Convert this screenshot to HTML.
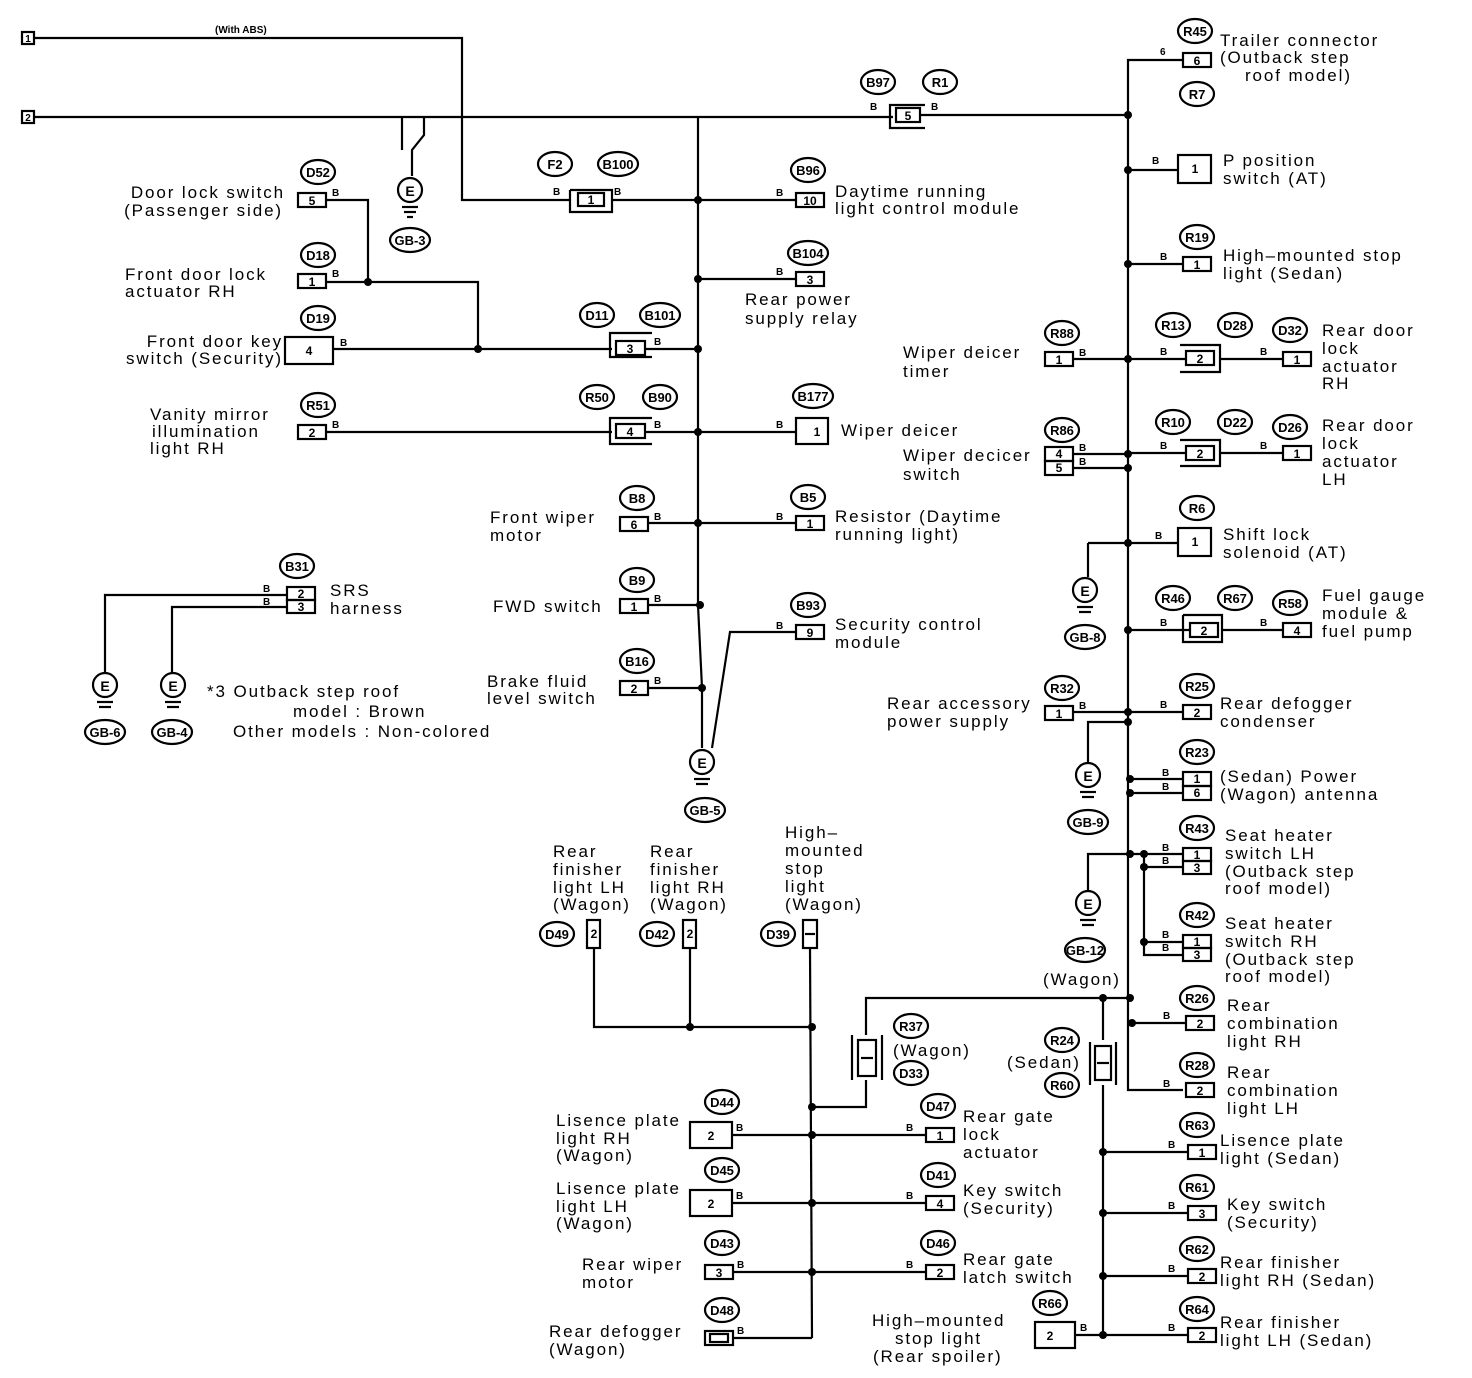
<!DOCTYPE html>
<html><head><meta charset="utf-8"><style>
body{margin:0;background:#fff}
svg{display:block}
text{font-family:"Liberation Sans",sans-serif;fill:#000}
.t{font-size:17px;letter-spacing:1.9px}
.o{font-size:13px;font-weight:bold;text-anchor:middle}
.b{font-size:10px;font-weight:bold}
.n{font-size:12px;font-weight:bold;text-anchor:middle}
line,polyline,rect,ellipse,circle{stroke:#000;stroke-width:2.2;fill:none}
.d{fill:#000;stroke:none}
</style></head><body>
<svg width="1472" height="1378" viewBox="0 0 1472 1378">
<rect x="22" y="32" width="12" height="12"/><text x="28" y="42" class="n" style="font-size:10px">1</text>
<rect x="22" y="111" width="12" height="12"/><text x="28" y="121" class="n" style="font-size:10px">2</text>
<text x="215" y="33" style="font-size:10px;font-weight:bold">(With ABS)</text>
<polyline points="34,38 462,38 462,200 570,200"/>
<line x1="34" y1="117" x2="893" y2="117"/>
<polyline points="424,117 424,135 412,150 412,176"/><line x1="402" y1="117" x2="402" y2="150"/>
<circle cx="410" cy="190" r="12"/><text x="410" y="196" class="n" style="font-size:14px">E</text>
<line x1="402" y1="207" x2="418" y2="207"/><line x1="404" y1="212" x2="416" y2="212"/><line x1="407" y1="217" x2="413" y2="217"/>
<ellipse cx="410" cy="240" rx="20" ry="12"/><text x="410" y="245" class="o">GB-3</text>
<polyline points="698,117 698,605 702,688 702,748"/>
<circle cx="702" cy="762" r="12"/><text x="702" y="768" class="n" style="font-size:14px">E</text>
<line x1="694" y1="779" x2="710" y2="779"/><line x1="696" y1="784" x2="708" y2="784"/>
<ellipse cx="705" cy="810" rx="20" ry="12"/><text x="705" y="815" class="o">GB-5</text>
<polyline points="712,748 730,632 796,632"/>
<ellipse cx="555" cy="164" rx="17" ry="12"/><text x="555" y="169" class="o">F2</text>
<ellipse cx="618" cy="164" rx="20" ry="12"/><text x="618" y="169" class="o">B100</text>
<polyline points="570,190 612,190 612,212 570,212 570,190"/><rect x="578" y="193" width="26" height="13"/><text x="591" y="204" class="n">1</text>
<text x="553" y="195" class="b">B</text><text x="614" y="195" class="b">B</text>
<line x1="612" y1="200" x2="796" y2="200"/>
<ellipse cx="318" cy="172" rx="17" ry="12"/><text x="318" y="177" class="o">D52</text>
<text x="285" y="198" class="t" text-anchor="end">Door lock switch</text><text x="283" y="216" class="t" text-anchor="end">(Passenger side)</text>
<rect x="298" y="193" width="28" height="14"/><text x="312" y="205" class="n">5</text><text x="332" y="196" class="b">B</text>
<polyline points="326,200 368,200 368,282"/>
<ellipse cx="318" cy="255" rx="17" ry="12"/><text x="318" y="260" class="o">D18</text>
<text x="125" y="280" class="t">Front door lock</text><text x="125" y="297" class="t">actuator RH</text>
<rect x="298" y="274" width="28" height="14"/><text x="312" y="286" class="n">1</text><text x="332" y="277" class="b">B</text>
<polyline points="326,282 478,282 478,349"/><circle cx="368" cy="282" r="4" class="d"/>
<ellipse cx="318" cy="318" rx="17" ry="12"/><text x="318" y="323" class="o">D19</text>
<text x="283" y="347" class="t" text-anchor="end">Front door key</text><text x="283" y="364" class="t" text-anchor="end">switch (Security)</text>
<rect x="285" y="337" width="48" height="27"/><text x="309" y="355" class="n">4</text><text x="340" y="346" class="b">B</text>
<line x1="333" y1="349" x2="612" y2="349"/><circle cx="478" cy="349" r="4" class="d"/>
<ellipse cx="597" cy="315" rx="17" ry="12"/><text x="597" y="320" class="o">D11</text>
<ellipse cx="660" cy="315" rx="20" ry="12"/><text x="660" y="320" class="o">B101</text>
<polyline points="652,333 610,333 610,357 652,357"/><rect x="616" y="341" width="29" height="14"/><text x="630" y="353" class="n">3</text><text x="654" y="345" class="b">B</text>
<line x1="645" y1="349" x2="698" y2="349"/><circle cx="698" cy="349" r="4" class="d"/>
<ellipse cx="318" cy="405" rx="17" ry="12"/><text x="318" y="410" class="o">R51</text>
<text x="150" y="420" class="t">Vanity mirror</text><text x="152" y="437" class="t">illumination</text><text x="150" y="454" class="t">light RH</text>
<rect x="298" y="425" width="28" height="14"/><text x="312" y="437" class="n">2</text><text x="332" y="428" class="b">B</text>
<line x1="326" y1="432" x2="612" y2="432"/>
<ellipse cx="597" cy="397" rx="17" ry="12"/><text x="597" y="402" class="o">R50</text>
<ellipse cx="660" cy="397" rx="17" ry="12"/><text x="660" y="402" class="o">B90</text>
<polyline points="652,418 610,418 610,444 652,444"/><rect x="616" y="424" width="29" height="14"/><text x="630" y="436" class="n">4</text><text x="654" y="428" class="b">B</text>
<line x1="645" y1="432" x2="796" y2="432"/><circle cx="698" cy="432" r="4" class="d"/>
<ellipse cx="637" cy="498" rx="17" ry="12"/><text x="637" y="503" class="o">B8</text>
<text x="490" y="523" class="t">Front wiper</text><text x="490" y="541" class="t">motor</text>
<rect x="620" y="517" width="28" height="14"/><text x="634" y="529" class="n">6</text><text x="654" y="520" class="b">B</text>
<line x1="648" y1="523" x2="796" y2="523"/><circle cx="698" cy="523" r="4" class="d"/>
<ellipse cx="637" cy="580" rx="17" ry="12"/><text x="637" y="585" class="o">B9</text>
<text x="493" y="612" class="t">FWD switch</text>
<rect x="620" y="599" width="28" height="14"/><text x="634" y="611" class="n">1</text><text x="654" y="602" class="b">B</text>
<line x1="648" y1="605" x2="700" y2="605"/><circle cx="700" cy="605" r="4" class="d"/>
<ellipse cx="637" cy="661" rx="17" ry="12"/><text x="637" y="666" class="o">B16</text>
<text x="487" y="687" class="t">Brake fluid</text><text x="487" y="704" class="t">level switch</text>
<rect x="620" y="681" width="28" height="14"/><text x="634" y="693" class="n">2</text><text x="654" y="684" class="b">B</text>
<line x1="648" y1="688" x2="702" y2="688"/><circle cx="702" cy="688" r="4" class="d"/>
<ellipse cx="808" cy="170" rx="17" ry="12"/><text x="808" y="175" class="o">B96</text>
<rect x="796" y="193" width="28" height="14"/><text x="810" y="205" class="n">10</text><text x="776" y="196" class="b">B</text><circle cx="698" cy="200" r="4" class="d"/>
<text x="835" y="197" class="t">Daytime running</text><text x="835" y="214" class="t">light control module</text>
<ellipse cx="808" cy="253" rx="20" ry="12"/><text x="808" y="258" class="o">B104</text>
<line x1="698" y1="279" x2="796" y2="279"/><circle cx="698" cy="279" r="4" class="d"/>
<rect x="796" y="272" width="28" height="14"/><text x="810" y="284" class="n">3</text><text x="776" y="275" class="b">B</text>
<text x="745" y="305" class="t">Rear power</text><text x="745" y="324" class="t">supply relay</text>
<ellipse cx="813" cy="396" rx="20" ry="12"/><text x="813" y="401" class="o">B177</text>
<rect x="796" y="418" width="32" height="26"/><text x="817" y="436" class="n">1</text><text x="776" y="428" class="b">B</text>
<text x="841" y="436" class="t">Wiper deicer</text>
<ellipse cx="808" cy="497" rx="17" ry="12"/><text x="808" y="502" class="o">B5</text>
<rect x="796" y="516" width="28" height="14"/><text x="810" y="528" class="n">1</text><text x="776" y="520" class="b">B</text>
<text x="835" y="522" class="t">Resistor (Daytime</text><text x="835" y="540" class="t">running light)</text>
<ellipse cx="808" cy="605" rx="17" ry="12"/><text x="808" y="610" class="o">B93</text>
<rect x="796" y="625" width="28" height="14"/><text x="810" y="637" class="n">9</text><text x="776" y="629" class="b">B</text>
<text x="835" y="630" class="t">Security control</text><text x="835" y="648" class="t">module</text>
<ellipse cx="297" cy="566" rx="17" ry="12"/><text x="297" y="571" class="o">B31</text>
<rect x="287" y="587" width="28" height="13"/><rect x="287" y="600" width="28" height="13"/>
<text x="301" y="598" class="n">2</text><text x="301" y="611" class="n">3</text>
<text x="330" y="596" class="t">SRS</text><text x="330" y="614" class="t">harness</text>
<polyline points="287,595 105,595 105,672"/><polyline points="287,607 172,607 172,672"/>
<text x="263" y="592" class="b">B</text><text x="263" y="605" class="b">B</text>
<circle cx="105" cy="685" r="12"/><text x="105" y="691" class="n" style="font-size:14px">E</text>
<circle cx="173" cy="685" r="12"/><text x="173" y="691" class="n" style="font-size:14px">E</text>
<line x1="97" y1="702" x2="113" y2="702"/><line x1="99" y1="707" x2="111" y2="707"/><line x1="165" y1="702" x2="181" y2="702"/><line x1="167" y1="707" x2="179" y2="707"/>
<ellipse cx="105" cy="732" rx="20" ry="12"/><text x="105" y="737" class="o">GB-6</text>
<ellipse cx="172" cy="732" rx="20" ry="12"/><text x="172" y="737" class="o">GB-4</text>
<text x="207" y="697" class="t">*3 Outback step roof</text><text x="293" y="717" class="t">model   : Brown</text><text x="233" y="737" class="t">Other models : Non-colored</text>
<ellipse cx="878" cy="82" rx="17" ry="12"/><text x="878" y="87" class="o">B97</text>
<ellipse cx="940" cy="82" rx="17" ry="12"/><text x="940" y="87" class="o">R1</text>
<polyline points="925,105 890,105 890,128 925,128"/><rect x="896" y="108" width="24" height="14"/><text x="908" y="120" class="n">5</text>
<text x="870" y="110" class="b">B</text><text x="931" y="110" class="b">B</text>
<line x1="920" y1="115" x2="1128" y2="115"/><circle cx="1128" cy="115" r="4" class="d"/>
<polyline points="1183,60 1128,60 1128,1090 1183,1090"/>
<ellipse cx="1195" cy="31" rx="17" ry="12"/><text x="1195" y="36" class="o">R45</text>
<rect x="1183" y="53" width="28" height="14"/><text x="1197" y="65" class="n">6</text><text x="1160" y="55" class="b">6</text>
<text x="1220" y="46" class="t">Trailer connector</text><text x="1220" y="63" class="t">(Outback step</text><text x="1245" y="81" class="t">roof model)</text>
<ellipse cx="1197" cy="94" rx="17" ry="12"/><text x="1197" y="99" class="o">R7</text>
<line x1="1128" y1="170" x2="1178" y2="170"/><circle cx="1128" cy="170" r="4" class="d"/><text x="1152" y="164" class="b">B</text>
<rect x="1178" y="155" width="33" height="28"/><text x="1195" y="173" class="n">1</text>
<text x="1223" y="166" class="t">P position</text><text x="1223" y="184" class="t">switch (AT)</text>
<ellipse cx="1197" cy="237" rx="17" ry="12"/><text x="1197" y="242" class="o">R19</text>
<line x1="1128" y1="264" x2="1183" y2="264"/><circle cx="1128" cy="264" r="4" class="d"/><text x="1160" y="260" class="b">B</text>
<rect x="1183" y="257" width="28" height="14"/><text x="1197" y="269" class="n">1</text>
<text x="1223" y="261" class="t">High–mounted stop</text><text x="1223" y="279" class="t">light (Sedan)</text>
<ellipse cx="1062" cy="333" rx="17" ry="12"/><text x="1062" y="338" class="o">R88</text>
<text x="903" y="358" class="t">Wiper deicer</text><text x="903" y="377" class="t">timer</text>
<rect x="1045" y="352" width="28" height="14"/><text x="1059" y="364" class="n">1</text><text x="1079" y="356" class="b">B</text>
<line x1="1073" y1="359" x2="1186" y2="359"/><circle cx="1128" cy="359" r="4" class="d"/><text x="1160" y="355" class="b">B</text>
<ellipse cx="1173" cy="325" rx="17" ry="12"/><text x="1173" y="330" class="o">R13</text>
<ellipse cx="1235" cy="325" rx="17" ry="12"/><text x="1235" y="330" class="o">D28</text>
<polyline points="1180,345 1220,345 1220,372 1180,372"/><rect x="1186" y="351" width="28" height="14"/><text x="1200" y="363" class="n">2</text>
<line x1="1220" y1="359" x2="1283" y2="359"/><text x="1260" y="355" class="b">B</text>
<rect x="1283" y="352" width="28" height="14"/><text x="1297" y="364" class="n">1</text>
<ellipse cx="1290" cy="330" rx="17" ry="12"/><text x="1290" y="335" class="o">D32</text>
<text x="1322" y="336" class="t">Rear door</text><text x="1322" y="354" class="t">lock</text><text x="1322" y="372" class="t">actuator</text><text x="1322" y="389" class="t">RH</text>
<ellipse cx="1062" cy="430" rx="17" ry="12"/><text x="1062" y="435" class="o">R86</text>
<text x="903" y="461" class="t">Wiper decicer</text><text x="903" y="480" class="t">switch</text>
<rect x="1045" y="447" width="28" height="14"/><rect x="1045" y="461" width="28" height="14"/>
<text x="1059" y="458" class="n">4</text><text x="1059" y="472" class="n">5</text>
<line x1="1073" y1="454" x2="1128" y2="454"/><line x1="1073" y1="468" x2="1128" y2="468"/>
<circle cx="1128" cy="454" r="4" class="d"/><circle cx="1128" cy="468" r="4" class="d"/>
<text x="1079" y="451" class="b">B</text><text x="1079" y="465" class="b">B</text>
<line x1="1128" y1="453" x2="1186" y2="453"/><text x="1160" y="449" class="b">B</text>
<ellipse cx="1173" cy="422" rx="17" ry="12"/><text x="1173" y="427" class="o">R10</text>
<ellipse cx="1235" cy="422" rx="17" ry="12"/><text x="1235" y="427" class="o">D22</text>
<polyline points="1180,440 1220,440 1220,466 1180,466"/><rect x="1186" y="446" width="28" height="14"/><text x="1200" y="458" class="n">2</text>
<line x1="1220" y1="453" x2="1283" y2="453"/><text x="1260" y="449" class="b">B</text>
<rect x="1283" y="446" width="28" height="14"/><text x="1297" y="458" class="n">1</text>
<ellipse cx="1290" cy="427" rx="17" ry="12"/><text x="1290" y="432" class="o">D26</text>
<text x="1322" y="431" class="t">Rear door</text><text x="1322" y="449" class="t">lock</text><text x="1322" y="467" class="t">actuator</text><text x="1322" y="485" class="t">LH</text>
<ellipse cx="1197" cy="508" rx="17" ry="12"/><text x="1197" y="513" class="o">R6</text>
<line x1="1088" y1="543" x2="1178" y2="543"/><circle cx="1128" cy="543" r="4" class="d"/><text x="1155" y="539" class="b">B</text>
<rect x="1178" y="528" width="33" height="28"/><text x="1195" y="546" class="n">1</text>
<text x="1223" y="540" class="t">Shift lock</text><text x="1223" y="558" class="t">solenoid (AT)</text>
<line x1="1088" y1="543" x2="1088" y2="577"/>
<circle cx="1085" cy="590" r="12"/><text x="1085" y="596" class="n" style="font-size:14px">E</text>
<line x1="1077" y1="607" x2="1093" y2="607"/><line x1="1079" y1="612" x2="1091" y2="612"/>
<ellipse cx="1085" cy="637" rx="20" ry="12"/><text x="1085" y="642" class="o">GB-8</text>
<ellipse cx="1173" cy="598" rx="17" ry="12"/><text x="1173" y="603" class="o">R46</text>
<ellipse cx="1235" cy="598" rx="17" ry="12"/><text x="1235" y="603" class="o">R67</text>
<line x1="1128" y1="630" x2="1190" y2="630"/><circle cx="1128" cy="630" r="4" class="d"/><text x="1160" y="626" class="b">B</text>
<polyline points="1183,615 1222,615 1222,642 1183,642 1183,615"/><rect x="1190" y="623" width="28" height="14"/><text x="1204" y="635" class="n">2</text>
<line x1="1222" y1="630" x2="1283" y2="630"/><text x="1260" y="626" class="b">B</text>
<rect x="1283" y="623" width="28" height="14"/><text x="1297" y="635" class="n">4</text>
<ellipse cx="1290" cy="603" rx="17" ry="12"/><text x="1290" y="608" class="o">R58</text>
<text x="1322" y="601" class="t">Fuel gauge</text><text x="1322" y="619" class="t">module &amp;</text><text x="1322" y="637" class="t">fuel pump</text>
<ellipse cx="1062" cy="688" rx="17" ry="12"/><text x="1062" y="693" class="o">R32</text>
<text x="887" y="709" class="t">Rear accessory</text><text x="887" y="727" class="t">power supply</text>
<rect x="1045" y="706" width="28" height="14"/><text x="1059" y="718" class="n">1</text><text x="1079" y="709" class="b">B</text>
<line x1="1073" y1="712" x2="1183" y2="712"/><circle cx="1128" cy="712" r="4" class="d"/><text x="1160" y="708" class="b">B</text>
<ellipse cx="1197" cy="686" rx="17" ry="12"/><text x="1197" y="691" class="o">R25</text>
<rect x="1183" y="705" width="28" height="14"/><text x="1197" y="717" class="n">2</text>
<text x="1220" y="709" class="t">Rear defogger</text><text x="1220" y="727" class="t">condenser</text>
<polyline points="1128,722 1088,722 1088,762"/><circle cx="1128" cy="722" r="4" class="d"/>
<circle cx="1088" cy="775" r="12"/><text x="1088" y="781" class="n" style="font-size:14px">E</text>
<line x1="1080" y1="792" x2="1096" y2="792"/><line x1="1082" y1="797" x2="1094" y2="797"/>
<ellipse cx="1088" cy="822" rx="20" ry="12"/><text x="1088" y="827" class="o">GB-9</text>
<ellipse cx="1197" cy="752" rx="17" ry="12"/><text x="1197" y="757" class="o">R23</text>
<line x1="1128" y1="779" x2="1183" y2="779"/><line x1="1128" y1="793" x2="1183" y2="793"/>
<circle cx="1130" cy="779" r="4" class="d"/><circle cx="1130" cy="793" r="4" class="d"/>
<text x="1162" y="776" class="b">B</text><text x="1162" y="790" class="b">B</text>
<rect x="1183" y="772" width="28" height="14"/><rect x="1183" y="786" width="28" height="14"/>
<text x="1197" y="783" class="n">1</text><text x="1197" y="797" class="n">6</text>
<text x="1220" y="782" class="t">(Sedan)  Power</text><text x="1220" y="800" class="t">(Wagon) antenna</text>
<ellipse cx="1197" cy="828" rx="17" ry="12"/><text x="1197" y="833" class="o">R43</text>
<polyline points="1183,854 1088,854 1088,890"/><circle cx="1130" cy="854" r="4" class="d"/><circle cx="1144" cy="854" r="4" class="d"/>
<polyline points="1144,854 1144,955 1183,955"/><line x1="1144" y1="867" x2="1183" y2="867"/><circle cx="1144" cy="867" r="4" class="d"/>
<line x1="1144" y1="942" x2="1183" y2="942"/><circle cx="1144" cy="942" r="4" class="d"/>
<rect x="1183" y="848" width="28" height="13"/><rect x="1183" y="861" width="28" height="13"/>
<text x="1197" y="859" class="n">1</text><text x="1197" y="872" class="n">3</text>
<text x="1162" y="851" class="b">B</text><text x="1162" y="864" class="b">B</text>
<text x="1225" y="841" class="t">Seat heater</text><text x="1225" y="859" class="t">switch LH</text><text x="1225" y="877" class="t">(Outback step</text><text x="1225" y="894" class="t">roof model)</text>
<circle cx="1088" cy="903" r="12"/><text x="1088" y="909" class="n" style="font-size:14px">E</text>
<line x1="1080" y1="920" x2="1096" y2="920"/><line x1="1082" y1="925" x2="1094" y2="925"/>
<ellipse cx="1085" cy="950" rx="20" ry="12"/><text x="1085" y="955" class="o">GB-12</text>
<text x="1043" y="985" class="t">(Wagon)</text>
<ellipse cx="1197" cy="915" rx="17" ry="12"/><text x="1197" y="920" class="o">R42</text>
<rect x="1183" y="935" width="28" height="13"/><rect x="1183" y="948" width="28" height="13"/>
<text x="1197" y="946" class="n">1</text><text x="1197" y="959" class="n">3</text>
<text x="1162" y="938" class="b">B</text><text x="1162" y="951" class="b">B</text>
<text x="1225" y="929" class="t">Seat heater</text><text x="1225" y="947" class="t">switch RH</text><text x="1225" y="965" class="t">(Outback step</text><text x="1225" y="982" class="t">roof model)</text>
<polyline points="1128,998 866,998 866,1035"/><circle cx="1103" cy="998" r="4" class="d"/><circle cx="1130" cy="998" r="4" class="d"/>
<ellipse cx="1197" cy="998" rx="17" ry="12"/><text x="1197" y="1003" class="o">R26</text>
<line x1="1128" y1="1023" x2="1186" y2="1023"/><circle cx="1132" cy="1023" r="4" class="d"/><text x="1163" y="1019" class="b">B</text>
<rect x="1186" y="1016" width="28" height="14"/><text x="1200" y="1028" class="n">2</text>
<text x="1227" y="1011" class="t">Rear</text><text x="1227" y="1029" class="t">combination</text><text x="1227" y="1047" class="t">light RH</text>
<ellipse cx="1197" cy="1065" rx="17" ry="12"/><text x="1197" y="1070" class="o">R28</text>
<rect x="1186" y="1083" width="28" height="14"/><text x="1200" y="1095" class="n">2</text><text x="1163" y="1087" class="b">B</text>
<text x="1227" y="1078" class="t">Rear</text><text x="1227" y="1096" class="t">combination</text><text x="1227" y="1114" class="t">light LH</text>
<line x1="1103" y1="998" x2="1103" y2="1040"/>
<polyline points="1090,1042 1090,1085"/><polyline points="1116,1042 1116,1085"/><rect x="1095" y="1046" width="16" height="34"/><line x1="1097" y1="1063" x2="1109" y2="1063"/>
<ellipse cx="1062" cy="1040" rx="17" ry="12"/><text x="1062" y="1045" class="o">R24</text>
<text x="1007" y="1068" class="t">(Sedan)</text>
<ellipse cx="1062" cy="1085" rx="17" ry="12"/><text x="1062" y="1090" class="o">R60</text>
<line x1="1103" y1="1085" x2="1103" y2="1335"/>
<ellipse cx="1197" cy="1125" rx="17" ry="12"/><text x="1197" y="1130" class="o">R63</text>
<line x1="1103" y1="1152" x2="1188" y2="1152"/><circle cx="1103" cy="1152" r="4" class="d"/><text x="1168" y="1148" class="b">B</text>
<rect x="1188" y="1145" width="28" height="14"/><text x="1202" y="1157" class="n">1</text>
<text x="1220" y="1146" class="t">Lisence plate</text><text x="1220" y="1164" class="t">light (Sedan)</text>
<ellipse cx="1197" cy="1187" rx="17" ry="12"/><text x="1197" y="1192" class="o">R61</text>
<line x1="1103" y1="1213" x2="1188" y2="1213"/><circle cx="1103" cy="1213" r="4" class="d"/><text x="1168" y="1209" class="b">B</text>
<rect x="1188" y="1206" width="28" height="14"/><text x="1202" y="1218" class="n">3</text>
<text x="1227" y="1210" class="t">Key switch</text><text x="1227" y="1228" class="t">(Security)</text>
<ellipse cx="1197" cy="1249" rx="17" ry="12"/><text x="1197" y="1254" class="o">R62</text>
<line x1="1103" y1="1276" x2="1188" y2="1276"/><circle cx="1103" cy="1276" r="4" class="d"/><text x="1168" y="1272" class="b">B</text>
<rect x="1188" y="1269" width="28" height="14"/><text x="1202" y="1281" class="n">2</text>
<text x="1220" y="1268" class="t">Rear finisher</text><text x="1220" y="1286" class="t">light RH (Sedan)</text>
<ellipse cx="1197" cy="1309" rx="17" ry="12"/><text x="1197" y="1314" class="o">R64</text>
<line x1="1075" y1="1335" x2="1188" y2="1335"/><circle cx="1103" cy="1335" r="4" class="d"/><text x="1168" y="1331" class="b">B</text>
<rect x="1188" y="1328" width="28" height="14"/><text x="1202" y="1340" class="n">2</text>
<text x="1220" y="1328" class="t">Rear finisher</text><text x="1220" y="1346" class="t">light LH (Sedan)</text>
<ellipse cx="1050" cy="1303" rx="17" ry="12"/><text x="1050" y="1308" class="o">R66</text>
<rect x="1035" y="1322" width="40" height="26"/><text x="1050" y="1340" class="n">2</text><text x="1080" y="1331" class="b">B</text>
<text x="872" y="1326" class="t">High–mounted</text><text x="895" y="1344" class="t">stop light</text><text x="873" y="1362" class="t">(Rear spoiler)</text>
<text x="553" y="857" class="t">Rear</text><text x="553" y="875" class="t">finisher</text><text x="553" y="893" class="t">light LH</text><text x="553" y="910" class="t">(Wagon)</text>
<text x="650" y="857" class="t">Rear</text><text x="650" y="875" class="t">finisher</text><text x="650" y="893" class="t">light RH</text><text x="650" y="910" class="t">(Wagon)</text>
<text x="785" y="838" class="t">High–</text><text x="785" y="856" class="t">mounted</text><text x="785" y="874" class="t">stop</text><text x="785" y="892" class="t">light</text><text x="785" y="910" class="t">(Wagon)</text>
<ellipse cx="557" cy="934" rx="17" ry="12"/><text x="557" y="939" class="o">D49</text>
<ellipse cx="657" cy="934" rx="17" ry="12"/><text x="657" y="939" class="o">D42</text>
<ellipse cx="778" cy="934" rx="17" ry="12"/><text x="778" y="939" class="o">D39</text>
<rect x="587" y="920" width="13" height="28"/><text x="594" y="938" class="n">2</text>
<rect x="683" y="920" width="13" height="28"/><text x="690" y="938" class="n">2</text>
<rect x="803" y="920" width="14" height="28"/><line x1="805" y1="934" x2="815" y2="934"/>
<polyline points="594,948 594,1027 812,1027"/><line x1="690" y1="948" x2="690" y2="1027"/>
<line x1="810" y1="948" x2="812" y2="1338"/>
<circle cx="690" cy="1027" r="4" class="d"/><circle cx="812" cy="1027" r="4" class="d"/>
<polyline points="852,1035 852,1080"/><polyline points="882,1035 882,1080"/><rect x="858" y="1040" width="18" height="36"/><line x1="861" y1="1058" x2="873" y2="1058"/>
<polyline points="866,1080 866,1107 812,1107"/><circle cx="812" cy="1107" r="4" class="d"/>
<ellipse cx="911" cy="1026" rx="17" ry="12"/><text x="911" y="1031" class="o">R37</text>
<text x="893" y="1056" class="t">(Wagon)</text>
<ellipse cx="911" cy="1073" rx="17" ry="12"/><text x="911" y="1078" class="o">D33</text>
<ellipse cx="722" cy="1102" rx="17" ry="12"/><text x="722" y="1107" class="o">D44</text>
<text x="556" y="1126" class="t">Lisence plate</text><text x="556" y="1144" class="t">light RH</text><text x="556" y="1161" class="t">(Wagon)</text>
<rect x="690" y="1122" width="42" height="26"/><text x="711" y="1140" class="n">2</text><text x="736" y="1131" class="b">B</text>
<line x1="732" y1="1135" x2="926" y2="1135"/><circle cx="812" cy="1135" r="4" class="d"/><text x="906" y="1131" class="b">B</text>
<rect x="926" y="1128" width="28" height="14"/><text x="940" y="1140" class="n">1</text>
<ellipse cx="938" cy="1106" rx="17" ry="12"/><text x="938" y="1111" class="o">D47</text>
<text x="963" y="1122" class="t">Rear gate</text><text x="963" y="1140" class="t">lock</text><text x="963" y="1158" class="t">actuator</text>
<ellipse cx="722" cy="1170" rx="17" ry="12"/><text x="722" y="1175" class="o">D45</text>
<text x="556" y="1194" class="t">Lisence plate</text><text x="556" y="1212" class="t">light LH</text><text x="556" y="1229" class="t">(Wagon)</text>
<rect x="690" y="1190" width="42" height="26"/><text x="711" y="1208" class="n">2</text><text x="736" y="1199" class="b">B</text>
<line x1="732" y1="1203" x2="926" y2="1203"/><circle cx="812" cy="1203" r="4" class="d"/><text x="906" y="1199" class="b">B</text>
<rect x="926" y="1196" width="28" height="14"/><text x="940" y="1208" class="n">4</text>
<ellipse cx="938" cy="1175" rx="17" ry="12"/><text x="938" y="1180" class="o">D41</text>
<text x="963" y="1196" class="t">Key switch</text><text x="963" y="1214" class="t">(Security)</text>
<ellipse cx="722" cy="1243" rx="17" ry="12"/><text x="722" y="1248" class="o">D43</text>
<text x="582" y="1270" class="t">Rear wiper</text><text x="582" y="1288" class="t">motor</text>
<rect x="705" y="1265" width="28" height="14"/><text x="719" y="1277" class="n">3</text><text x="737" y="1268" class="b">B</text>
<line x1="733" y1="1272" x2="926" y2="1272"/><circle cx="812" cy="1272" r="4" class="d"/><text x="906" y="1268" class="b">B</text>
<rect x="926" y="1265" width="28" height="14"/><text x="940" y="1277" class="n">2</text>
<ellipse cx="938" cy="1243" rx="17" ry="12"/><text x="938" y="1248" class="o">D46</text>
<text x="963" y="1265" class="t">Rear gate</text><text x="963" y="1283" class="t">latch switch</text>
<ellipse cx="722" cy="1310" rx="17" ry="12"/><text x="722" y="1315" class="o">D48</text>
<text x="549" y="1337" class="t">Rear defogger</text><text x="549" y="1355" class="t">(Wagon)</text>
<rect x="705" y="1331" width="28" height="14"/><rect x="710" y="1334" width="18" height="8"/><text x="737" y="1334" class="b">B</text>
<line x1="733" y1="1338" x2="812" y2="1338"/>
</svg>
</body></html>
